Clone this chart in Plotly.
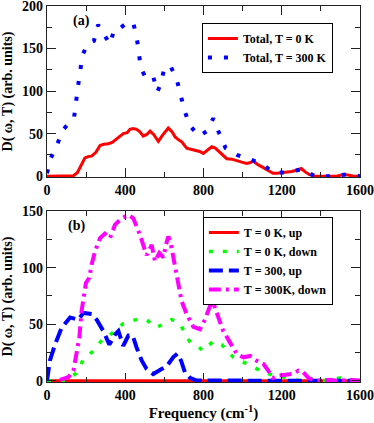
import plotly.graph_objects as go

# ---------------- data ----------------
# Panel (a): total DOS, T = 0 K
a0_x = [0, 60, 110, 135, 155, 175, 194, 210, 228, 250, 271, 290, 314, 335, 356, 375, 390, 410, 424, 440,
        458, 475, 492, 510, 527, 545, 569, 590, 605, 620, 640, 655, 671, 690, 714, 740, 765, 780, 799, 820,
        842, 860, 884, 900, 919, 945, 970, 995, 1021, 1040, 1055, 1075, 1106, 1130, 1155, 1175, 1200, 1225, 1250, 1275,
        1300, 1320, 1340, 1365, 1400, 1450, 1480, 1500, 1520, 1545, 1570, 1600]
a0_y = [0, 0, 0, 0.5, 4, 13, 21.5, 23, 23.5, 28, 36, 37.5, 38, 40, 44, 48, 50, 51, 55, 56,
        55, 52, 47, 49, 53, 49, 41, 48, 53, 56.5, 52, 46, 43, 40, 33, 31.5, 30.5, 29, 26.7, 30,
        34.5, 33, 28, 25, 20.5, 20, 17.8, 16.5, 15, 16, 17.8, 14, 10, 7, 3.5, 3.5, 4, 4.5, 5.5, 7,
        9, 5, 2, 0, 0, 0, 0, 1, 2, 1, 0, 0]

# Panel (a): total DOS, T = 300 K
a300_x = [0, 19, 53, 83, 138, 150, 158, 170, 181, 206, 240, 261, 288, 322, 344, 373, 402, 440, 458, 469,
          480, 506, 543, 564, 584, 600, 632, 663, 680, 702, 728, 777, 818, 850, 881, 913, 971, 1041, 1096, 1157,
          1227, 1302, 1370, 1453, 1532, 1600]
a300_y = [3.5, 21, 38, 55, 68, 86, 105, 124, 142, 155, 159, 178, 168, 155, 173, 174, 179, 181, 164, 146,
          127, 115, 117, 99, 110, 128, 129, 114, 96, 78, 60, 47, 53, 68, 50, 33, 25, 19, 15, 4,
          4.5, 8, 0, 0, 2, 0]

# Panel (b): T = 0 K, up
b0u_x = [0, 1600]
b0u_y = [0, 0]

# Panel (b): T = 0 K, down
b0d_x = [0, 92, 150, 187, 242, 280, 319, 348, 390, 433, 465, 509, 557, 603, 637, 676, 728, 765, 799, 850,
         893, 952, 1021, 1080, 1157, 1217, 1276, 1344, 1421, 1498, 1575, 1600]
b0d_y = [0, 0, 6.7, 19.5, 27, 36, 40, 44, 50.6, 53, 54.5, 54, 47, 50.6, 54, 51.5, 35, 31, 26.6, 35,
         32, 21, 15, 10, 4.7, 3.2, 0.3, 1.8, 0.3, 2.6, 0, 0]

# Panel (b): T = 300 K, up
b300u_x = [0, 15, 41, 75, 118, 160, 186, 228, 254, 288, 319, 348, 365, 390, 416, 438, 458, 484, 509, 543,
           586, 612, 646, 666, 685, 705, 731, 765, 1600]
b300u_y = [0, 18, 32, 47, 56, 54, 60, 59, 54, 44, 32, 41, 44, 31, 40, 40, 29.5, 18, 10.5, 6,
           10.5, 13, 21, 24, 18, 7.6, 2.6, 0.3, 0]

# Panel (b): T = 300 K, down
b300d_x = [66, 109, 135, 152, 165, 177, 199, 216, 228, 245, 271, 296, 322, 348, 382, 416, 441, 475, 496, 509,
           535, 552, 574, 595, 608, 620, 632, 646, 666, 688, 714, 748, 782, 808, 833, 850, 876, 901, 935, 970,
           1004, 1038, 1072, 1106, 1131, 1154, 1183, 1217, 1251, 1285, 1310, 1336, 1370, 1447, 1481, 1549, 1600]
b300d_y = [0.9, 3.2, 9, 23.7, 38, 62, 86.5, 91, 102.6, 114, 126, 130, 126, 138, 143.6, 146.5, 143.6, 129, 117, 111,
           120, 105.6, 113, 109, 120, 127.5, 121.6, 108.5, 86.5, 70.5, 58.8, 47.7, 45.6, 54.4, 66, 69, 56, 44, 34, 23.7,
           20.8, 22, 17.8, 15, 9, 2.6, 4.7, 5.6, 6, 9, 7.6, 2.6, 0, 0.9, 0, 0.9, 0]

x_ticks = [0, 400, 800, 1200, 1600]
ya_ticks = [0, 50, 100, 150, 200]
yb_ticks = [0, 50, 100, 150]

FONT = "Liberation Serif"

fig = go.Figure()

# ---- panel (a)
fig.add_trace(go.Scatter(x=a0_x, y=a0_y, mode="lines", name="Total, T = 0 K",
                         line=dict(color="#ff0000", width=3), xaxis="x", yaxis="y", legend="legend"))
fig.add_trace(go.Scatter(x=a300_x, y=a300_y, mode="lines", name="Total, T = 300 K",
                         line=dict(color="#0000ff", width=4, dash="4px,12px"),
                         xaxis="x", yaxis="y", legend="legend"))

# ---- panel (b)
fig.add_trace(go.Scatter(x=b0u_x, y=b0u_y, mode="lines", name="T = 0 K, up",
                         line=dict(color="#ff0000", width=3), xaxis="x2", yaxis="y2", legend="legend2"))
fig.add_trace(go.Scatter(x=b0d_x, y=b0d_y, mode="lines", name="T = 0 K, down",
                         line=dict(color="#00ff00", width=3.5, dash="4px,10px"),
                         xaxis="x2", yaxis="y2", legend="legend2"))
fig.add_trace(go.Scatter(x=b300u_x, y=b300u_y, mode="lines", name="T = 300, up",
                         line=dict(color="#0000ff", width=4, dash="14px,6px"),
                         xaxis="x2", yaxis="y2", legend="legend2"))
fig.add_trace(go.Scatter(x=b300d_x, y=b300d_y, mode="lines", name="T = 300K, down",
                         line=dict(color="#ff00ff", width=4, dash="12px,5px,3px,5px"),
                         xaxis="x2", yaxis="y2", legend="legend2"))

axis_common = dict(showline=True, linecolor="#222222", linewidth=1.3, mirror="allticks",
                   ticks="inside", ticklen=9, tickwidth=1.2, tickcolor="#222222",
                   showgrid=False, zeroline=False, automargin=False, ticklabeloverflow="allow",
                   tickfont=dict(family=FONT, size=14, color="black", weight="bold"))
minor_x = dict(dtick=200, ticks="inside", ticklen=5, tickwidth=1.2, tickcolor="#222222", showgrid=False)
minor_y = dict(dtick=25, ticks="inside", ticklen=5, tickwidth=1.2, tickcolor="#222222", showgrid=False)

ytitle = dict(text="D( ω, T) (arb. units)", font=dict(family=FONT, size=14, color="black", weight="bold"),
              standoff=6)

fig.update_layout(
    width=374, height=423,
    margin=dict(l=47, r=14, t=6, b=41, autoexpand=False),
    paper_bgcolor="white", plot_bgcolor="white",
    font=dict(family=FONT, color="black"),
    xaxis=dict(axis_common, domain=[0, 1], range=[0, 1600], tickvals=x_ticks, minor=minor_x, anchor="y"),
    yaxis=dict(axis_common, domain=[0.5452, 1.0], range=[-1, 200], tickvals=ya_ticks, minor=minor_y,
               anchor="x", title=ytitle),
    xaxis2=dict(axis_common, domain=[0, 1], range=[0, 1600], tickvals=x_ticks, minor=minor_x, anchor="y2",
                title=dict(text="Frequency (cm<sup>-1</sup>)",
                           font=dict(family=FONT, size=15, color="black", weight="bold"), standoff=4)),
    yaxis2=dict(axis_common, domain=[0, 0.4548], range=[-1, 150], tickvals=yb_ticks, minor=minor_y,
                anchor="x2", title=ytitle),
    legend=dict(x=0.495, y=0.9548, xanchor="left", yanchor="top", bgcolor="white",
                bordercolor="black", borderwidth=1, itemwidth=30, tracegroupgap=0,
                font=dict(family=FONT, size=12, color="black", weight="bold")),
    legend2=dict(x=0.498, y=0.4388, xanchor="left", yanchor="top", bgcolor="white",
                 bordercolor="black", borderwidth=1, itemwidth=30, tracegroupgap=0,
                 font=dict(family=FONT, size=12, color="black", weight="bold")),
    annotations=[
        dict(text="(a)", xref="paper", yref="paper", x=0.078, y=0.960, xanchor="left", yanchor="middle",
             showarrow=False, font=dict(family=FONT, size=14, color="black", weight="bold")),
        dict(text="(b)", xref="paper", yref="paper", x=0.060, y=0.4149, xanchor="left", yanchor="middle",
             showarrow=False, font=dict(family=FONT, size=14, color="black", weight="bold")),
    ],
)

fig.write_html("out.html", config={"displayModeBar": False},
               post_script="document.body.style.margin='0px';")
